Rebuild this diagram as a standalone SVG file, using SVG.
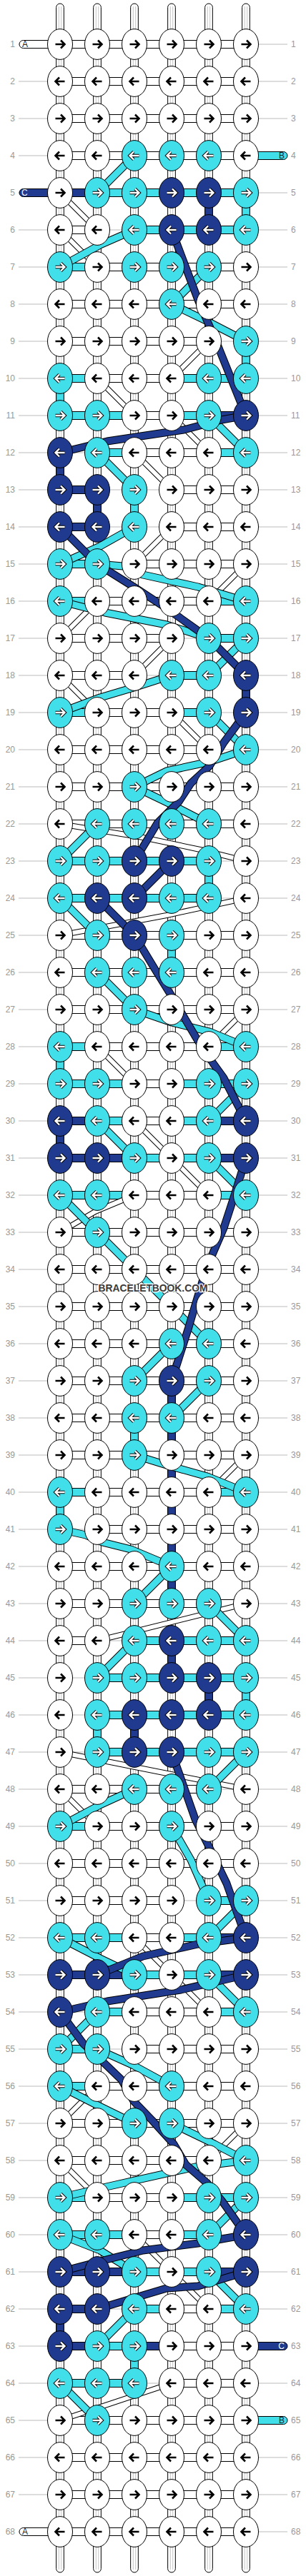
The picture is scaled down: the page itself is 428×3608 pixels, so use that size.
<svg xmlns="http://www.w3.org/2000/svg" width="428" height="3608" viewBox="0 0 428 3608">
<style>
.gl{stroke:#bbb;stroke-width:1;fill:none}
.lb{font-family:"Liberation Sans",Arial,sans-serif;font-size:12px;fill:#999}
.le{text-anchor:end}
.wp{fill:#fff;stroke:#000;stroke-width:1}
.wi{stroke:#c4c4c4;stroke-width:1;fill:none}
.st{font-family:"Liberation Sans",Arial,sans-serif;font-size:12px}
.bo{fill:none;stroke:#000;stroke-linejoin:round;stroke-linecap:butt}
.bw{fill:none;stroke:#fff;stroke-linejoin:round}
.bc{fill:none;stroke:#41dfea;stroke-linejoin:round}
.bn{fill:none;stroke:#1f3a8e;stroke-linejoin:round}
</style>
<defs>
<path id="a" d="M-6.5,0H6M1,-5.5L6.5,0L1,5.5" fill="none"/>
<g id="WR"><ellipse rx="17.5" ry="21.4" fill="#fff" stroke="#000"/><use href="#a" stroke="#000" stroke-width="2.6"/></g>
<g id="WL"><ellipse rx="17.5" ry="21.4" fill="#fff" stroke="#000"/><use href="#a" stroke="#000" stroke-width="2.6" transform="scale(-1,1)"/></g>
<g id="CR"><ellipse rx="17.5" ry="21.4" fill="#41dfea" stroke="#000"/><use href="#a" stroke="#000" stroke-width="4.4"/><use href="#a" stroke="#fff" stroke-width="2.4"/></g>
<g id="CL"><ellipse rx="17.5" ry="21.4" fill="#41dfea" stroke="#000"/><use href="#a" stroke="#000" stroke-width="4.4" transform="scale(-1,1)"/><use href="#a" stroke="#fff" stroke-width="2.4" transform="scale(-1,1)"/></g>
<g id="NR"><ellipse rx="17.5" ry="21.4" fill="#1f3a8e" stroke="#000"/><use href="#a" stroke="#000" stroke-width="4.4"/><use href="#a" stroke="#fff" stroke-width="2.4"/></g>
<g id="NL"><ellipse rx="17.5" ry="21.4" fill="#1f3a8e" stroke="#000"/><use href="#a" stroke="#000" stroke-width="4.4" transform="scale(-1,1)"/><use href="#a" stroke="#fff" stroke-width="2.4" transform="scale(-1,1)"/></g>
<rect id="R" x="84" y="-5.5" width="260" height="11" fill="#fff" stroke="#000"/>
<rect id="hc" x="12" y="-5.5" width="28" height="11" fill="#41dfea" stroke="#000"/>
<rect id="hn" x="12" y="-5.5" width="28" height="11" fill="#1f3a8e" stroke="#000"/>
<g id="hx"><rect x="14" y="-6.6" width="24" height="13.2" fill="#fff"/><path d="M14,0H38" stroke="#bbb"/></g>
<rect id="vc" x="-5.35" y="15" width="10.7" height="22" fill="#41dfea" stroke="#000"/>
<rect id="vn" x="-5.35" y="15" width="10.7" height="22" fill="#1f3a8e" stroke="#000"/>
<path id="dW" d="M84,270L136,322M84,322L136,374M292,478L240,530M136,530L188,582M240,582L292,634M188,634L240,686M240,738L188,790M344,790L292,842M136,842L84,894M240,894L188,946M84,946L136,998M240,998L292,1050M84,1154L200,1173L280,1190L344,1206M344,1258L233,1282L84,1310M344,1414L292,1466M136,1466L188,1518M188,1570L240,1622M240,1622L292,1674M188,1674L133,1697L84,1726M344,2038L292,2090M344,2246L136,2298M84,2454L344,2506M84,2506L136,2558M188,2714L240,2766M240,2766L292,2818M136,2922L84,2974M344,2974L292,3026M84,3026L136,3078M188,3130L240,3182M240,3182L292,3234M240,3338L84,3390"/>
<path id="dC" d="M188,218L136,270M188,322L140,343L84,374M292,374L240,426M240,426L290,450L344,478M292,582L344,634M136,634L188,686M188,738L140,765L84,790M136,790L172,793L200,805L277,822L344,842M84,842L147,858L233,875L292,894M344,894L292,946M240,946L187,963L140,977L84,998M292,998L344,1050M344,1050L293,1067L233,1080L188,1102M188,1102L240,1127L292,1154M136,1154L84,1206M84,1258L136,1310M136,1362L188,1414M188,1414L240,1432L293,1445L344,1466M344,1518L292,1570M136,1570L188,1622M292,1622L344,1674M84,1674L136,1726M136,1726L188,1778M188,1778L240,1830M240,1830L292,1882M240,1882L188,1934M292,1934L240,1986M188,2038L233,2052L290,2068L344,2090M84,2142L120,2150L143,2160L183,2170L240,2194M240,2194L188,2246M292,2246L344,2298M188,2298L136,2350M344,2454L292,2506M188,2506L140,2528L84,2558M240,2558L267,2605L292,2662M344,2662L292,2714M84,2714L140,2743L188,2766M292,2766L344,2818M136,2818L84,2870M136,2870L187,2893L240,2922M84,2922L133,2947L188,2974M240,2974L300,3003L344,3026M344,3026L273,3035L153,3062L84,3078M344,3078L292,3130M84,3130L140,3152L188,3182M292,3182L344,3234M188,3234L136,3286M84,3338L136,3390"/>
<path id="dN" d="M240,322L277,420L303,480L344,582M344,582L310,588L257,602L150,618L84,634M84,738L136,790M136,790L187,822L233,852L292,894L344,946M344,998L313,1040L293,1073L267,1097L250,1123L220,1153L188,1206M240,1206L188,1258M136,1258L188,1310M188,1310L217,1358L240,1395L277,1458L300,1492L313,1510L344,1570M344,1622L327,1677L313,1720L297,1757L283,1795L273,1828L263,1862L240,1934M240,2454L273,2548L290,2582L317,2638L344,2714M344,2714L277,2723L200,2740L136,2766M344,2766L253,2787L150,2803L84,2818M84,2818L117,2863L143,2887L170,2913L187,2943L213,2970L243,3003L260,3032L290,3058L310,3082L344,3130M344,3130L277,3142L200,3152L160,3162L84,3182M344,3182L277,3202L233,3205L136,3234"/>
</defs>
<rect width="428" height="3608" fill="#fff"/>
<g id="guides">
<path class="gl" d="M26,62H402M26,114H402M26,166H402M26,218H402M26,270H402M26,322H402M26,374H402M26,426H402M26,478H402M26,530H402M26,582H402M26,634H402M26,686H402M26,738H402M26,790H402M26,842H402M26,894H402M26,946H402M26,998H402M26,1050H402M26,1102H402M26,1154H402M26,1206H402M26,1258H402M26,1310H402M26,1362H402M26,1414H402M26,1466H402M26,1518H402M26,1570H402M26,1622H402M26,1674H402M26,1726H402M26,1778H402M26,1830H402M26,1882H402M26,1934H402M26,1986H402M26,2038H402M26,2090H402M26,2142H402M26,2194H402M26,2246H402M26,2298H402M26,2350H402M26,2402H402M26,2454H402M26,2506H402M26,2558H402M26,2610H402M26,2662H402M26,2714H402M26,2766H402M26,2818H402M26,2870H402M26,2922H402M26,2974H402M26,3026H402M26,3078H402M26,3130H402M26,3182H402M26,3234H402M26,3286H402M26,3338H402M26,3390H402M26,3442H402M26,3494H402M26,3546H402"/>
</g>
<g id="labels">
<text class="lb le" x="21" y="66">1</text><text class="lb" x="407" y="66">1</text>
<text class="lb le" x="21" y="118">2</text><text class="lb" x="407" y="118">2</text>
<text class="lb le" x="21" y="170">3</text><text class="lb" x="407" y="170">3</text>
<text class="lb le" x="21" y="222">4</text><text class="lb" x="407" y="222">4</text>
<text class="lb le" x="21" y="274">5</text><text class="lb" x="407" y="274">5</text>
<text class="lb le" x="21" y="326">6</text><text class="lb" x="407" y="326">6</text>
<text class="lb le" x="21" y="378">7</text><text class="lb" x="407" y="378">7</text>
<text class="lb le" x="21" y="430">8</text><text class="lb" x="407" y="430">8</text>
<text class="lb le" x="21" y="482">9</text><text class="lb" x="407" y="482">9</text>
<text class="lb le" x="21" y="534">10</text><text class="lb" x="407" y="534">10</text>
<text class="lb le" x="21" y="586">11</text><text class="lb" x="407" y="586">11</text>
<text class="lb le" x="21" y="638">12</text><text class="lb" x="407" y="638">12</text>
<text class="lb le" x="21" y="690">13</text><text class="lb" x="407" y="690">13</text>
<text class="lb le" x="21" y="742">14</text><text class="lb" x="407" y="742">14</text>
<text class="lb le" x="21" y="794">15</text><text class="lb" x="407" y="794">15</text>
<text class="lb le" x="21" y="846">16</text><text class="lb" x="407" y="846">16</text>
<text class="lb le" x="21" y="898">17</text><text class="lb" x="407" y="898">17</text>
<text class="lb le" x="21" y="950">18</text><text class="lb" x="407" y="950">18</text>
<text class="lb le" x="21" y="1002">19</text><text class="lb" x="407" y="1002">19</text>
<text class="lb le" x="21" y="1054">20</text><text class="lb" x="407" y="1054">20</text>
<text class="lb le" x="21" y="1106">21</text><text class="lb" x="407" y="1106">21</text>
<text class="lb le" x="21" y="1158">22</text><text class="lb" x="407" y="1158">22</text>
<text class="lb le" x="21" y="1210">23</text><text class="lb" x="407" y="1210">23</text>
<text class="lb le" x="21" y="1262">24</text><text class="lb" x="407" y="1262">24</text>
<text class="lb le" x="21" y="1314">25</text><text class="lb" x="407" y="1314">25</text>
<text class="lb le" x="21" y="1366">26</text><text class="lb" x="407" y="1366">26</text>
<text class="lb le" x="21" y="1418">27</text><text class="lb" x="407" y="1418">27</text>
<text class="lb le" x="21" y="1470">28</text><text class="lb" x="407" y="1470">28</text>
<text class="lb le" x="21" y="1522">29</text><text class="lb" x="407" y="1522">29</text>
<text class="lb le" x="21" y="1574">30</text><text class="lb" x="407" y="1574">30</text>
<text class="lb le" x="21" y="1626">31</text><text class="lb" x="407" y="1626">31</text>
<text class="lb le" x="21" y="1678">32</text><text class="lb" x="407" y="1678">32</text>
<text class="lb le" x="21" y="1730">33</text><text class="lb" x="407" y="1730">33</text>
<text class="lb le" x="21" y="1782">34</text><text class="lb" x="407" y="1782">34</text>
<text class="lb le" x="21" y="1834">35</text><text class="lb" x="407" y="1834">35</text>
<text class="lb le" x="21" y="1886">36</text><text class="lb" x="407" y="1886">36</text>
<text class="lb le" x="21" y="1938">37</text><text class="lb" x="407" y="1938">37</text>
<text class="lb le" x="21" y="1990">38</text><text class="lb" x="407" y="1990">38</text>
<text class="lb le" x="21" y="2042">39</text><text class="lb" x="407" y="2042">39</text>
<text class="lb le" x="21" y="2094">40</text><text class="lb" x="407" y="2094">40</text>
<text class="lb le" x="21" y="2146">41</text><text class="lb" x="407" y="2146">41</text>
<text class="lb le" x="21" y="2198">42</text><text class="lb" x="407" y="2198">42</text>
<text class="lb le" x="21" y="2250">43</text><text class="lb" x="407" y="2250">43</text>
<text class="lb le" x="21" y="2302">44</text><text class="lb" x="407" y="2302">44</text>
<text class="lb le" x="21" y="2354">45</text><text class="lb" x="407" y="2354">45</text>
<text class="lb le" x="21" y="2406">46</text><text class="lb" x="407" y="2406">46</text>
<text class="lb le" x="21" y="2458">47</text><text class="lb" x="407" y="2458">47</text>
<text class="lb le" x="21" y="2510">48</text><text class="lb" x="407" y="2510">48</text>
<text class="lb le" x="21" y="2562">49</text><text class="lb" x="407" y="2562">49</text>
<text class="lb le" x="21" y="2614">50</text><text class="lb" x="407" y="2614">50</text>
<text class="lb le" x="21" y="2666">51</text><text class="lb" x="407" y="2666">51</text>
<text class="lb le" x="21" y="2718">52</text><text class="lb" x="407" y="2718">52</text>
<text class="lb le" x="21" y="2770">53</text><text class="lb" x="407" y="2770">53</text>
<text class="lb le" x="21" y="2822">54</text><text class="lb" x="407" y="2822">54</text>
<text class="lb le" x="21" y="2874">55</text><text class="lb" x="407" y="2874">55</text>
<text class="lb le" x="21" y="2926">56</text><text class="lb" x="407" y="2926">56</text>
<text class="lb le" x="21" y="2978">57</text><text class="lb" x="407" y="2978">57</text>
<text class="lb le" x="21" y="3030">58</text><text class="lb" x="407" y="3030">58</text>
<text class="lb le" x="21" y="3082">59</text><text class="lb" x="407" y="3082">59</text>
<text class="lb le" x="21" y="3134">60</text><text class="lb" x="407" y="3134">60</text>
<text class="lb le" x="21" y="3186">61</text><text class="lb" x="407" y="3186">61</text>
<text class="lb le" x="21" y="3238">62</text><text class="lb" x="407" y="3238">62</text>
<text class="lb le" x="21" y="3290">63</text><text class="lb" x="407" y="3290">63</text>
<text class="lb le" x="21" y="3342">64</text><text class="lb" x="407" y="3342">64</text>
<text class="lb le" x="21" y="3394">65</text><text class="lb" x="407" y="3394">65</text>
<text class="lb le" x="21" y="3446">66</text><text class="lb" x="407" y="3446">66</text>
<text class="lb le" x="21" y="3498">67</text><text class="lb" x="407" y="3498">67</text>
<text class="lb le" x="21" y="3550">68</text><text class="lb" x="407" y="3550">68</text>
</g>
<g id="connectors">
<g id="warps">
<rect class="wp" x="78.65" y="5" width="10.7" height="3598" rx="5.35"/>
<rect class="wp" x="130.65" y="5" width="10.7" height="3598" rx="5.35"/>
<rect class="wp" x="182.65" y="5" width="10.7" height="3598" rx="5.35"/>
<rect class="wp" x="234.65" y="5" width="10.7" height="3598" rx="5.35"/>
<rect class="wp" x="286.65" y="5" width="10.7" height="3598" rx="5.35"/>
<rect class="wp" x="338.65" y="5" width="10.7" height="3598" rx="5.35"/>
<path class="wi" d="M82.3,9V3599M85.7,9V3599M134.3,9V3599M137.7,9V3599M186.3,9V3599M189.7,9V3599M238.3,9V3599M241.7,9V3599M290.3,9V3599M293.7,9V3599M342.3,9V3599M345.7,9V3599"/>
</g>
<g id="rows">
<use href="#R" y="62"/><use href="#R" y="114"/><use href="#R" y="166"/><use href="#R" y="218"/><use href="#R" y="270"/><use href="#R" y="322"/><use href="#R" y="374"/><use href="#R" y="426"/><use href="#R" y="478"/><use href="#R" y="530"/><use href="#R" y="582"/><use href="#R" y="634"/><use href="#R" y="686"/><use href="#R" y="738"/><use href="#R" y="790"/><use href="#R" y="842"/><use href="#R" y="894"/><use href="#R" y="946"/><use href="#R" y="998"/><use href="#R" y="1050"/><use href="#R" y="1102"/><use href="#R" y="1154"/><use href="#R" y="1206"/><use href="#R" y="1258"/><use href="#R" y="1310"/><use href="#R" y="1362"/><use href="#R" y="1414"/><use href="#R" y="1466"/><use href="#R" y="1518"/><use href="#R" y="1570"/><use href="#R" y="1622"/><use href="#R" y="1674"/><use href="#R" y="1726"/><use href="#R" y="1778"/><use href="#R" y="1830"/><use href="#R" y="1882"/><use href="#R" y="1934"/><use href="#R" y="1986"/><use href="#R" y="2038"/><use href="#R" y="2090"/><use href="#R" y="2142"/><use href="#R" y="2194"/><use href="#R" y="2246"/><use href="#R" y="2298"/><use href="#R" y="2350"/><use href="#R" y="2402"/><use href="#R" y="2454"/><use href="#R" y="2506"/><use href="#R" y="2558"/><use href="#R" y="2610"/><use href="#R" y="2662"/><use href="#R" y="2714"/><use href="#R" y="2766"/><use href="#R" y="2818"/><use href="#R" y="2870"/><use href="#R" y="2922"/><use href="#R" y="2974"/><use href="#R" y="3026"/><use href="#R" y="3078"/><use href="#R" y="3130"/><use href="#R" y="3182"/><use href="#R" y="3234"/><use href="#R" y="3286"/><use href="#R" y="3338"/><use href="#R" y="3390"/><use href="#R" y="3442"/><use href="#R" y="3494"/><use href="#R" y="3546"/>
</g>
<g id="ends">
<rect x="27" y="56.5" width="64" height="11" rx="5.5" fill="#fff" stroke="#000"/><text class="st" x="31" y="66" fill="#222">A</text>
<rect x="27" y="3540.5" width="64" height="11" rx="5.5" fill="#fff" stroke="#000"/><text class="st" x="31" y="3550" fill="#222">A</text>
<rect x="27" y="264.5" width="64" height="11" rx="5.5" fill="#1f3a8e" stroke="#000"/><text class="st" x="30" y="274" fill="#fff">C</text>
<rect x="338" y="212.5" width="64" height="11" rx="5.5" fill="#41dfea" stroke="#000"/><text class="st" x="398" y="222" fill="#222" text-anchor="end">B</text>
<rect x="338" y="3384.5" width="64" height="11" rx="5.5" fill="#41dfea" stroke="#000"/><text class="st" x="398" y="3394" fill="#222" text-anchor="end">B</text>
<rect x="338" y="3280.5" width="64" height="11" rx="5.5" fill="#1f3a8e" stroke="#000"/><text class="st" x="398" y="3290" fill="#fff" text-anchor="end">C</text>
</g>
<g id="gaps">
<use href="#hx" x="136" y="322"/><use href="#hx" x="292" y="478"/><use href="#hx" x="84" y="634"/><use href="#hx" x="136" y="686"/><use href="#hx" x="188" y="686"/><use href="#hx" x="136" y="738"/><use href="#hx" x="188" y="738"/><use href="#hx" x="136" y="790"/><use href="#hx" x="240" y="894"/><use href="#hx" x="188" y="946"/><use href="#hx" x="292" y="946"/><use href="#hx" x="292" y="998"/><use href="#hx" x="292" y="1050"/><use href="#hx" x="292" y="1206"/><use href="#hx" x="292" y="1258"/><use href="#hx" x="84" y="2142"/><use href="#hx" x="136" y="2298"/><use href="#hx" x="84" y="2350"/><use href="#hx" x="84" y="2402"/><use href="#hx" x="84" y="2454"/><use href="#hx" x="292" y="2506"/><use href="#hx" x="240" y="2662"/><use href="#hx" x="84" y="2818"/><use href="#hx" x="136" y="2870"/><use href="#hx" x="292" y="3026"/><use href="#hx" x="292" y="3130"/><use href="#hx" x="136" y="3234"/><use href="#hx" x="188" y="3338"/>
</g>
<g id="hcolor">
<use href="#hn" x="84" y="270"/><use href="#hc" x="136" y="270"/><use href="#hc" x="188" y="270"/><use href="#hc" x="240" y="270"/><use href="#hc" x="292" y="270"/>
<use href="#hc" x="188" y="322"/><use href="#hc" x="240" y="322"/><use href="#hc" x="292" y="322"/>
<use href="#hc" x="84" y="374"/>
<use href="#hc" x="84" y="530"/><use href="#hc" x="240" y="530"/><use href="#hc" x="292" y="530"/>
<use href="#hc" x="84" y="582"/><use href="#hc" x="136" y="582"/><use href="#hc" x="240" y="582"/><use href="#hn" x="292" y="582"/>
<use href="#hc" x="136" y="634"/><use href="#hc" x="292" y="634"/>
<use href="#hn" x="84" y="686"/><use href="#hn" x="84" y="738"/>
<use href="#hc" x="84" y="790"/>
<use href="#hc" x="84" y="842"/><use href="#hc" x="292" y="842"/>
<use href="#hc" x="292" y="894"/><use href="#hc" x="240" y="946"/>
<use href="#hc" x="84" y="998"/><use href="#hc" x="240" y="998"/>
<use href="#hc" x="84" y="1206"/><use href="#hc" x="136" y="1206"/><use href="#hc" x="188" y="1206"/><use href="#hc" x="240" y="1206"/>
<use href="#hc" x="84" y="1258"/><use href="#hc" x="136" y="1258"/><use href="#hc" x="188" y="1258"/><use href="#hc" x="240" y="1258"/>
<use href="#hc" x="84" y="1466"/><use href="#hc" x="292" y="1466"/>
<use href="#hc" x="84" y="1518"/><use href="#hc" x="136" y="1518"/><use href="#hc" x="240" y="1518"/><use href="#hc" x="292" y="1518"/>
<use href="#hn" x="84" y="1570"/><use href="#hc" x="136" y="1570"/><use href="#hc" x="240" y="1570"/><use href="#hn" x="292" y="1570"/>
<use href="#hn" x="84" y="1622"/><use href="#hn" x="136" y="1622"/><use href="#hc" x="188" y="1622"/><use href="#hc" x="240" y="1622"/><use href="#hn" x="292" y="1622"/>
<use href="#hc" x="84" y="1674"/><use href="#hc" x="136" y="1674"/><use href="#hc" x="292" y="1674"/>
<use href="#hc" x="84" y="2090"/><use href="#hc" x="292" y="2090"/>
<use href="#hc" x="188" y="2298"/><use href="#hc" x="240" y="2298"/><use href="#hc" x="292" y="2298"/>
<use href="#hc" x="136" y="2350"/><use href="#hc" x="188" y="2350"/><use href="#hc" x="240" y="2350"/><use href="#hc" x="292" y="2350"/>
<use href="#hc" x="136" y="2402"/><use href="#hc" x="188" y="2402"/><use href="#hc" x="240" y="2402"/><use href="#hc" x="292" y="2402"/>
<use href="#hc" x="136" y="2454"/><use href="#hc" x="188" y="2454"/><use href="#hc" x="240" y="2454"/><use href="#hc" x="292" y="2454"/>
<use href="#hc" x="84" y="2558"/><use href="#hc" x="292" y="2662"/>
<use href="#hc" x="84" y="2714"/><use href="#hc" x="136" y="2714"/><use href="#hc" x="240" y="2714"/><use href="#hn" x="292" y="2714"/>
<use href="#hn" x="84" y="2766"/><use href="#hn" x="136" y="2766"/><use href="#hc" x="188" y="2766"/><use href="#hc" x="240" y="2766"/><use href="#hn" x="292" y="2766"/>
<use href="#hc" x="136" y="2818"/><use href="#hc" x="292" y="2818"/>
<use href="#hc" x="84" y="2870"/><use href="#hc" x="84" y="2922"/>
<use href="#hc" x="84" y="3078"/><use href="#hc" x="240" y="3078"/><use href="#hc" x="292" y="3078"/>
<use href="#hc" x="84" y="3130"/><use href="#hc" x="136" y="3130"/><use href="#hc" x="240" y="3130"/>
<use href="#hn" x="84" y="3182"/><use href="#hn" x="136" y="3182"/><use href="#hc" x="188" y="3182"/><use href="#hc" x="240" y="3182"/><use href="#hn" x="292" y="3182"/>
<use href="#hn" x="84" y="3234"/><use href="#hc" x="188" y="3234"/><use href="#hc" x="292" y="3234"/>
<use href="#hn" x="84" y="3286"/><use href="#hc" x="136" y="3286"/><use href="#hn" x="188" y="3286"/>
<use href="#hc" x="84" y="3338"/><use href="#hc" x="136" y="3338"/>
</g>
<g id="vcolor">
<use href="#vn" x="292" y="270"/><use href="#vc" x="344" y="270"/><use href="#vc" x="344" y="478"/><use href="#vc" x="84" y="530"/><use href="#vn" x="84" y="634"/><use href="#vn" x="136" y="686"/><use href="#vc" x="188" y="686"/><use href="#vn" x="344" y="946"/><use href="#vc" x="292" y="1206"/><use href="#vc" x="240" y="1310"/><use href="#vc" x="84" y="1466"/><use href="#vn" x="84" y="1570"/><use href="#vn" x="240" y="1934"/><use href="#vc" x="188" y="1986"/><use href="#vn" x="240" y="1986"/><use href="#vn" x="240" y="2038"/><use href="#vc" x="84" y="2090"/><use href="#vn" x="240" y="2090"/><use href="#vn" x="240" y="2142"/><use href="#vn" x="240" y="2194"/><use href="#vn" x="240" y="2298"/><use href="#vn" x="292" y="2350"/><use href="#vc" x="344" y="2350"/><use href="#vc" x="136" y="2402"/><use href="#vn" x="188" y="2402"/><use href="#vn" x="84" y="3234"/><use href="#vc" x="188" y="3286"/>
</g>
<g id="strands">
<use href="#dW" class="bo" stroke-width="8"/><use href="#dW" class="bw" stroke-width="6"/>
<use href="#dC" class="bo" stroke-width="11"/><use href="#dC" class="bc" stroke-width="9"/>
<use href="#dN" class="bo" stroke-width="11"/><use href="#dN" class="bn" stroke-width="9"/>
</g>
</g>
<g id="nodes">
<g id="n1_1"><use href="#WR" x="84" y="62"/></g><g id="n1_2"><use href="#WR" x="136" y="62"/></g><g id="n1_3"><use href="#WR" x="188" y="62"/></g><g id="n1_4"><use href="#WR" x="240" y="62"/></g><g id="n1_5"><use href="#WR" x="292" y="62"/></g><g id="n1_6"><use href="#WR" x="344" y="62"/></g>
<g id="n2_1"><use href="#WL" x="84" y="114"/></g><g id="n2_2"><use href="#WL" x="136" y="114"/></g><g id="n2_3"><use href="#WL" x="188" y="114"/></g><g id="n2_4"><use href="#WL" x="240" y="114"/></g><g id="n2_5"><use href="#WL" x="292" y="114"/></g><g id="n2_6"><use href="#WL" x="344" y="114"/></g>
<g id="n3_1"><use href="#WR" x="84" y="166"/></g><g id="n3_2"><use href="#WR" x="136" y="166"/></g><g id="n3_3"><use href="#WR" x="188" y="166"/></g><g id="n3_4"><use href="#WR" x="240" y="166"/></g><g id="n3_5"><use href="#WR" x="292" y="166"/></g><g id="n3_6"><use href="#WR" x="344" y="166"/></g>
<g id="n4_1"><use href="#WL" x="84" y="218"/></g><g id="n4_2"><use href="#WL" x="136" y="218"/></g><g id="n4_3"><use href="#CL" x="188" y="218"/></g><g id="n4_4"><use href="#CL" x="240" y="218"/></g><g id="n4_5"><use href="#CL" x="292" y="218"/></g><g id="n4_6"><use href="#WL" x="344" y="218"/></g>
<g id="n5_1"><use href="#WR" x="84" y="270"/></g><g id="n5_2"><use href="#CR" x="136" y="270"/></g><g id="n5_3"><use href="#CR" x="188" y="270"/></g><g id="n5_4"><use href="#NR" x="240" y="270"/></g><g id="n5_5"><use href="#NR" x="292" y="270"/></g><g id="n5_6"><use href="#CR" x="344" y="270"/></g>
<g id="n6_1"><use href="#WL" x="84" y="322"/></g><g id="n6_2"><use href="#WL" x="136" y="322"/></g><g id="n6_3"><use href="#CL" x="188" y="322"/></g><g id="n6_4"><use href="#NL" x="240" y="322"/></g><g id="n6_5"><use href="#NL" x="292" y="322"/></g><g id="n6_6"><use href="#CL" x="344" y="322"/></g>
<g id="n7_1"><use href="#CR" x="84" y="374"/></g><g id="n7_2"><use href="#WR" x="136" y="374"/></g><g id="n7_3"><use href="#CR" x="188" y="374"/></g><g id="n7_4"><use href="#CR" x="240" y="374"/></g><g id="n7_5"><use href="#CR" x="292" y="374"/></g><g id="n7_6"><use href="#WR" x="344" y="374"/></g>
<g id="n8_1"><use href="#WL" x="84" y="426"/></g><g id="n8_2"><use href="#WL" x="136" y="426"/></g><g id="n8_3"><use href="#WL" x="188" y="426"/></g><g id="n8_4"><use href="#CL" x="240" y="426"/></g><g id="n8_5"><use href="#WL" x="292" y="426"/></g><g id="n8_6"><use href="#WL" x="344" y="426"/></g>
<g id="n9_1"><use href="#WR" x="84" y="478"/></g><g id="n9_2"><use href="#WR" x="136" y="478"/></g><g id="n9_3"><use href="#WR" x="188" y="478"/></g><g id="n9_4"><use href="#WR" x="240" y="478"/></g><g id="n9_5"><use href="#WR" x="292" y="478"/></g><g id="n9_6"><use href="#CR" x="344" y="478"/></g>
<g id="n10_1"><use href="#CL" x="84" y="530"/></g><g id="n10_2"><use href="#WL" x="136" y="530"/></g><g id="n10_3"><use href="#WL" x="188" y="530"/></g><g id="n10_4"><use href="#WL" x="240" y="530"/></g><g id="n10_5"><use href="#CL" x="292" y="530"/></g><g id="n10_6"><use href="#CL" x="344" y="530"/></g>
<g id="n11_1"><use href="#CR" x="84" y="582"/></g><g id="n11_2"><use href="#CR" x="136" y="582"/></g><g id="n11_3"><use href="#WR" x="188" y="582"/></g><g id="n11_4"><use href="#WR" x="240" y="582"/></g><g id="n11_5"><use href="#CR" x="292" y="582"/></g><g id="n11_6"><use href="#NR" x="344" y="582"/></g>
<g id="n12_1"><use href="#NL" x="84" y="634"/></g><g id="n12_2"><use href="#CL" x="136" y="634"/></g><g id="n12_3"><use href="#WL" x="188" y="634"/></g><g id="n12_4"><use href="#WL" x="240" y="634"/></g><g id="n12_5"><use href="#WL" x="292" y="634"/></g><g id="n12_6"><use href="#CL" x="344" y="634"/></g>
<g id="n13_1"><use href="#NR" x="84" y="686"/></g><g id="n13_2"><use href="#NR" x="136" y="686"/></g><g id="n13_3"><use href="#CR" x="188" y="686"/></g><g id="n13_4"><use href="#WR" x="240" y="686"/></g><g id="n13_5"><use href="#WR" x="292" y="686"/></g><g id="n13_6"><use href="#WR" x="344" y="686"/></g>
<g id="n14_1"><use href="#NL" x="84" y="738"/></g><g id="n14_2"><use href="#NL" x="136" y="738"/></g><g id="n14_3"><use href="#CL" x="188" y="738"/></g><g id="n14_4"><use href="#WL" x="240" y="738"/></g><g id="n14_5"><use href="#WL" x="292" y="738"/></g><g id="n14_6"><use href="#WL" x="344" y="738"/></g>
<g id="n15_1"><use href="#CR" x="84" y="790"/></g><g id="n15_2"><use href="#CR" x="136" y="790"/></g><g id="n15_3"><use href="#WR" x="188" y="790"/></g><g id="n15_4"><use href="#WR" x="240" y="790"/></g><g id="n15_5"><use href="#WR" x="292" y="790"/></g><g id="n15_6"><use href="#WR" x="344" y="790"/></g>
<g id="n16_1"><use href="#CL" x="84" y="842"/></g><g id="n16_2"><use href="#WL" x="136" y="842"/></g><g id="n16_3"><use href="#WL" x="188" y="842"/></g><g id="n16_4"><use href="#WL" x="240" y="842"/></g><g id="n16_5"><use href="#WL" x="292" y="842"/></g><g id="n16_6"><use href="#CL" x="344" y="842"/></g>
<g id="n17_1"><use href="#WR" x="84" y="894"/></g><g id="n17_2"><use href="#WR" x="136" y="894"/></g><g id="n17_3"><use href="#WR" x="188" y="894"/></g><g id="n17_4"><use href="#WR" x="240" y="894"/></g><g id="n17_5"><use href="#CR" x="292" y="894"/></g><g id="n17_6"><use href="#CR" x="344" y="894"/></g>
<g id="n18_1"><use href="#WL" x="84" y="946"/></g><g id="n18_2"><use href="#WL" x="136" y="946"/></g><g id="n18_3"><use href="#WL" x="188" y="946"/></g><g id="n18_4"><use href="#CL" x="240" y="946"/></g><g id="n18_5"><use href="#CL" x="292" y="946"/></g><g id="n18_6"><use href="#NL" x="344" y="946"/></g>
<g id="n19_1"><use href="#CR" x="84" y="998"/></g><g id="n19_2"><use href="#WR" x="136" y="998"/></g><g id="n19_3"><use href="#WR" x="188" y="998"/></g><g id="n19_4"><use href="#WR" x="240" y="998"/></g><g id="n19_5"><use href="#CR" x="292" y="998"/></g><g id="n19_6"><use href="#NR" x="344" y="998"/></g>
<g id="n20_1"><use href="#WL" x="84" y="1050"/></g><g id="n20_2"><use href="#WL" x="136" y="1050"/></g><g id="n20_3"><use href="#WL" x="188" y="1050"/></g><g id="n20_4"><use href="#WL" x="240" y="1050"/></g><g id="n20_5"><use href="#WL" x="292" y="1050"/></g><g id="n20_6"><use href="#CL" x="344" y="1050"/></g>
<g id="n21_1"><use href="#WR" x="84" y="1102"/></g><g id="n21_2"><use href="#WR" x="136" y="1102"/></g><g id="n21_3"><use href="#CR" x="188" y="1102"/></g><g id="n21_4"><use href="#WR" x="240" y="1102"/></g><g id="n21_5"><use href="#WR" x="292" y="1102"/></g><g id="n21_6"><use href="#WR" x="344" y="1102"/></g>
<g id="n22_1"><use href="#WL" x="84" y="1154"/></g><g id="n22_2"><use href="#CL" x="136" y="1154"/></g><g id="n22_3"><use href="#CL" x="188" y="1154"/></g><g id="n22_4"><use href="#CL" x="240" y="1154"/></g><g id="n22_5"><use href="#CL" x="292" y="1154"/></g><g id="n22_6"><use href="#WL" x="344" y="1154"/></g>
<g id="n23_1"><use href="#CR" x="84" y="1206"/></g><g id="n23_2"><use href="#CR" x="136" y="1206"/></g><g id="n23_3"><use href="#NR" x="188" y="1206"/></g><g id="n23_4"><use href="#NR" x="240" y="1206"/></g><g id="n23_5"><use href="#CR" x="292" y="1206"/></g><g id="n23_6"><use href="#WR" x="344" y="1206"/></g>
<g id="n24_1"><use href="#CL" x="84" y="1258"/></g><g id="n24_2"><use href="#NL" x="136" y="1258"/></g><g id="n24_3"><use href="#NL" x="188" y="1258"/></g><g id="n24_4"><use href="#CL" x="240" y="1258"/></g><g id="n24_5"><use href="#CL" x="292" y="1258"/></g><g id="n24_6"><use href="#WL" x="344" y="1258"/></g>
<g id="n25_1"><use href="#WR" x="84" y="1310"/></g><g id="n25_2"><use href="#CR" x="136" y="1310"/></g><g id="n25_3"><use href="#NR" x="188" y="1310"/></g><g id="n25_4"><use href="#CR" x="240" y="1310"/></g><g id="n25_5"><use href="#WR" x="292" y="1310"/></g><g id="n25_6"><use href="#WR" x="344" y="1310"/></g>
<g id="n26_1"><use href="#WL" x="84" y="1362"/></g><g id="n26_2"><use href="#CL" x="136" y="1362"/></g><g id="n26_3"><use href="#CL" x="188" y="1362"/></g><g id="n26_4"><use href="#CL" x="240" y="1362"/></g><g id="n26_5"><use href="#WL" x="292" y="1362"/></g><g id="n26_6"><use href="#WL" x="344" y="1362"/></g>
<g id="n27_1"><use href="#WR" x="84" y="1414"/></g><g id="n27_2"><use href="#WR" x="136" y="1414"/></g><g id="n27_3"><use href="#CR" x="188" y="1414"/></g><g id="n27_4"><use href="#WR" x="240" y="1414"/></g><g id="n27_5"><use href="#WR" x="292" y="1414"/></g><g id="n27_6"><use href="#WR" x="344" y="1414"/></g>
<g id="n28_1"><use href="#CL" x="84" y="1466"/></g><g id="n28_2"><use href="#WL" x="136" y="1466"/></g><g id="n28_3"><use href="#WL" x="188" y="1466"/></g><g id="n28_4"><use href="#WL" x="240" y="1466"/></g><g id="n28_5"><use href="#WL" x="292" y="1466"/></g><g id="n28_6"><use href="#CL" x="344" y="1466"/></g>
<g id="n29_1"><use href="#CR" x="84" y="1518"/></g><g id="n29_2"><use href="#CR" x="136" y="1518"/></g><g id="n29_3"><use href="#WR" x="188" y="1518"/></g><g id="n29_4"><use href="#WR" x="240" y="1518"/></g><g id="n29_5"><use href="#CR" x="292" y="1518"/></g><g id="n29_6"><use href="#CR" x="344" y="1518"/></g>
<g id="n30_1"><use href="#NL" x="84" y="1570"/></g><g id="n30_2"><use href="#CL" x="136" y="1570"/></g><g id="n30_3"><use href="#WL" x="188" y="1570"/></g><g id="n30_4"><use href="#WL" x="240" y="1570"/></g><g id="n30_5"><use href="#CL" x="292" y="1570"/></g><g id="n30_6"><use href="#NL" x="344" y="1570"/></g>
<g id="n31_1"><use href="#NR" x="84" y="1622"/></g><g id="n31_2"><use href="#NR" x="136" y="1622"/></g><g id="n31_3"><use href="#CR" x="188" y="1622"/></g><g id="n31_4"><use href="#WR" x="240" y="1622"/></g><g id="n31_5"><use href="#CR" x="292" y="1622"/></g><g id="n31_6"><use href="#NR" x="344" y="1622"/></g>
<g id="n32_1"><use href="#CL" x="84" y="1674"/></g><g id="n32_2"><use href="#CL" x="136" y="1674"/></g><g id="n32_3"><use href="#WL" x="188" y="1674"/></g><g id="n32_4"><use href="#WL" x="240" y="1674"/></g><g id="n32_5"><use href="#WL" x="292" y="1674"/></g><g id="n32_6"><use href="#CL" x="344" y="1674"/></g>
<g id="n33_1"><use href="#WR" x="84" y="1726"/></g><g id="n33_2"><use href="#CR" x="136" y="1726"/></g><g id="n33_3"><use href="#WR" x="188" y="1726"/></g><g id="n33_4"><use href="#WR" x="240" y="1726"/></g><g id="n33_5"><use href="#WR" x="292" y="1726"/></g><g id="n33_6"><use href="#WR" x="344" y="1726"/></g>
<g id="n34_1"><use href="#WL" x="84" y="1778"/></g><g id="n34_2"><use href="#WL" x="136" y="1778"/></g><g id="n34_3"><use href="#WL" x="188" y="1778"/></g><g id="n34_4"><use href="#WL" x="240" y="1778"/></g><g id="n34_5"><use href="#WL" x="292" y="1778"/></g><g id="n34_6"><use href="#WL" x="344" y="1778"/></g>
<g id="n35_1"><use href="#WR" x="84" y="1830"/></g><g id="n35_2"><use href="#WR" x="136" y="1830"/></g><g id="n35_3"><use href="#WR" x="188" y="1830"/></g><g id="n35_4"><use href="#WR" x="240" y="1830"/></g><g id="n35_5"><use href="#WR" x="292" y="1830"/></g><g id="n35_6"><use href="#WR" x="344" y="1830"/></g>
<g id="n36_1"><use href="#WL" x="84" y="1882"/></g><g id="n36_2"><use href="#WL" x="136" y="1882"/></g><g id="n36_3"><use href="#WL" x="188" y="1882"/></g><g id="n36_4"><use href="#CL" x="240" y="1882"/></g><g id="n36_5"><use href="#CL" x="292" y="1882"/></g><g id="n36_6"><use href="#WL" x="344" y="1882"/></g>
<g id="n37_1"><use href="#WR" x="84" y="1934"/></g><g id="n37_2"><use href="#WR" x="136" y="1934"/></g><g id="n37_3"><use href="#CR" x="188" y="1934"/></g><g id="n37_4"><use href="#NR" x="240" y="1934"/></g><g id="n37_5"><use href="#CR" x="292" y="1934"/></g><g id="n37_6"><use href="#WR" x="344" y="1934"/></g>
<g id="n38_1"><use href="#WL" x="84" y="1986"/></g><g id="n38_2"><use href="#WL" x="136" y="1986"/></g><g id="n38_3"><use href="#CL" x="188" y="1986"/></g><g id="n38_4"><use href="#CL" x="240" y="1986"/></g><g id="n38_5"><use href="#WL" x="292" y="1986"/></g><g id="n38_6"><use href="#WL" x="344" y="1986"/></g>
<g id="n39_1"><use href="#WR" x="84" y="2038"/></g><g id="n39_2"><use href="#WR" x="136" y="2038"/></g><g id="n39_3"><use href="#CR" x="188" y="2038"/></g><g id="n39_4"><use href="#WR" x="240" y="2038"/></g><g id="n39_5"><use href="#WR" x="292" y="2038"/></g><g id="n39_6"><use href="#WR" x="344" y="2038"/></g>
<g id="n40_1"><use href="#CL" x="84" y="2090"/></g><g id="n40_2"><use href="#WL" x="136" y="2090"/></g><g id="n40_3"><use href="#WL" x="188" y="2090"/></g><g id="n40_4"><use href="#WL" x="240" y="2090"/></g><g id="n40_5"><use href="#WL" x="292" y="2090"/></g><g id="n40_6"><use href="#CL" x="344" y="2090"/></g>
<g id="n41_1"><use href="#CR" x="84" y="2142"/></g><g id="n41_2"><use href="#WR" x="136" y="2142"/></g><g id="n41_3"><use href="#WR" x="188" y="2142"/></g><g id="n41_4"><use href="#WR" x="240" y="2142"/></g><g id="n41_5"><use href="#WR" x="292" y="2142"/></g><g id="n41_6"><use href="#WR" x="344" y="2142"/></g>
<g id="n42_1"><use href="#WL" x="84" y="2194"/></g><g id="n42_2"><use href="#WL" x="136" y="2194"/></g><g id="n42_3"><use href="#WL" x="188" y="2194"/></g><g id="n42_4"><use href="#CL" x="240" y="2194"/></g><g id="n42_5"><use href="#WL" x="292" y="2194"/></g><g id="n42_6"><use href="#WL" x="344" y="2194"/></g>
<g id="n43_1"><use href="#WR" x="84" y="2246"/></g><g id="n43_2"><use href="#WR" x="136" y="2246"/></g><g id="n43_3"><use href="#CR" x="188" y="2246"/></g><g id="n43_4"><use href="#CR" x="240" y="2246"/></g><g id="n43_5"><use href="#CR" x="292" y="2246"/></g><g id="n43_6"><use href="#WR" x="344" y="2246"/></g>
<g id="n44_1"><use href="#WL" x="84" y="2298"/></g><g id="n44_2"><use href="#WL" x="136" y="2298"/></g><g id="n44_3"><use href="#CL" x="188" y="2298"/></g><g id="n44_4"><use href="#NL" x="240" y="2298"/></g><g id="n44_5"><use href="#CL" x="292" y="2298"/></g><g id="n44_6"><use href="#CL" x="344" y="2298"/></g>
<g id="n45_1"><use href="#WR" x="84" y="2350"/></g><g id="n45_2"><use href="#CR" x="136" y="2350"/></g><g id="n45_3"><use href="#CR" x="188" y="2350"/></g><g id="n45_4"><use href="#NR" x="240" y="2350"/></g><g id="n45_5"><use href="#NR" x="292" y="2350"/></g><g id="n45_6"><use href="#CR" x="344" y="2350"/></g>
<g id="n46_1"><use href="#WL" x="84" y="2402"/></g><g id="n46_2"><use href="#CL" x="136" y="2402"/></g><g id="n46_3"><use href="#NL" x="188" y="2402"/></g><g id="n46_4"><use href="#NL" x="240" y="2402"/></g><g id="n46_5"><use href="#NL" x="292" y="2402"/></g><g id="n46_6"><use href="#CL" x="344" y="2402"/></g>
<g id="n47_1"><use href="#WR" x="84" y="2454"/></g><g id="n47_2"><use href="#CR" x="136" y="2454"/></g><g id="n47_3"><use href="#NR" x="188" y="2454"/></g><g id="n47_4"><use href="#NR" x="240" y="2454"/></g><g id="n47_5"><use href="#CR" x="292" y="2454"/></g><g id="n47_6"><use href="#CR" x="344" y="2454"/></g>
<g id="n48_1"><use href="#WL" x="84" y="2506"/></g><g id="n48_2"><use href="#WL" x="136" y="2506"/></g><g id="n48_3"><use href="#CL" x="188" y="2506"/></g><g id="n48_4"><use href="#CL" x="240" y="2506"/></g><g id="n48_5"><use href="#CL" x="292" y="2506"/></g><g id="n48_6"><use href="#WL" x="344" y="2506"/></g>
<g id="n49_1"><use href="#CR" x="84" y="2558"/></g><g id="n49_2"><use href="#WR" x="136" y="2558"/></g><g id="n49_3"><use href="#WR" x="188" y="2558"/></g><g id="n49_4"><use href="#CR" x="240" y="2558"/></g><g id="n49_5"><use href="#WR" x="292" y="2558"/></g><g id="n49_6"><use href="#WR" x="344" y="2558"/></g>
<g id="n50_1"><use href="#WL" x="84" y="2610"/></g><g id="n50_2"><use href="#WL" x="136" y="2610"/></g><g id="n50_3"><use href="#WL" x="188" y="2610"/></g><g id="n50_4"><use href="#WL" x="240" y="2610"/></g><g id="n50_5"><use href="#WL" x="292" y="2610"/></g><g id="n50_6"><use href="#WL" x="344" y="2610"/></g>
<g id="n51_1"><use href="#WR" x="84" y="2662"/></g><g id="n51_2"><use href="#WR" x="136" y="2662"/></g><g id="n51_3"><use href="#WR" x="188" y="2662"/></g><g id="n51_4"><use href="#WR" x="240" y="2662"/></g><g id="n51_5"><use href="#CR" x="292" y="2662"/></g><g id="n51_6"><use href="#CR" x="344" y="2662"/></g>
<g id="n52_1"><use href="#CL" x="84" y="2714"/></g><g id="n52_2"><use href="#CL" x="136" y="2714"/></g><g id="n52_3"><use href="#WL" x="188" y="2714"/></g><g id="n52_4"><use href="#WL" x="240" y="2714"/></g><g id="n52_5"><use href="#CL" x="292" y="2714"/></g><g id="n52_6"><use href="#NL" x="344" y="2714"/></g>
<g id="n53_1"><use href="#NR" x="84" y="2766"/></g><g id="n53_2"><use href="#NR" x="136" y="2766"/></g><g id="n53_3"><use href="#CR" x="188" y="2766"/></g><g id="n53_4"><use href="#WR" x="240" y="2766"/></g><g id="n53_5"><use href="#CR" x="292" y="2766"/></g><g id="n53_6"><use href="#NR" x="344" y="2766"/></g>
<g id="n54_1"><use href="#NL" x="84" y="2818"/></g><g id="n54_2"><use href="#CL" x="136" y="2818"/></g><g id="n54_3"><use href="#WL" x="188" y="2818"/></g><g id="n54_4"><use href="#WL" x="240" y="2818"/></g><g id="n54_5"><use href="#WL" x="292" y="2818"/></g><g id="n54_6"><use href="#CL" x="344" y="2818"/></g>
<g id="n55_1"><use href="#CR" x="84" y="2870"/></g><g id="n55_2"><use href="#CR" x="136" y="2870"/></g><g id="n55_3"><use href="#WR" x="188" y="2870"/></g><g id="n55_4"><use href="#WR" x="240" y="2870"/></g><g id="n55_5"><use href="#WR" x="292" y="2870"/></g><g id="n55_6"><use href="#WR" x="344" y="2870"/></g>
<g id="n56_1"><use href="#CL" x="84" y="2922"/></g><g id="n56_2"><use href="#WL" x="136" y="2922"/></g><g id="n56_3"><use href="#WL" x="188" y="2922"/></g><g id="n56_4"><use href="#CL" x="240" y="2922"/></g><g id="n56_5"><use href="#WL" x="292" y="2922"/></g><g id="n56_6"><use href="#WL" x="344" y="2922"/></g>
<g id="n57_1"><use href="#WR" x="84" y="2974"/></g><g id="n57_2"><use href="#WR" x="136" y="2974"/></g><g id="n57_3"><use href="#CR" x="188" y="2974"/></g><g id="n57_4"><use href="#CR" x="240" y="2974"/></g><g id="n57_5"><use href="#WR" x="292" y="2974"/></g><g id="n57_6"><use href="#WR" x="344" y="2974"/></g>
<g id="n58_1"><use href="#WL" x="84" y="3026"/></g><g id="n58_2"><use href="#WL" x="136" y="3026"/></g><g id="n58_3"><use href="#WL" x="188" y="3026"/></g><g id="n58_4"><use href="#WL" x="240" y="3026"/></g><g id="n58_5"><use href="#WL" x="292" y="3026"/></g><g id="n58_6"><use href="#CL" x="344" y="3026"/></g>
<g id="n59_1"><use href="#CR" x="84" y="3078"/></g><g id="n59_2"><use href="#WR" x="136" y="3078"/></g><g id="n59_3"><use href="#WR" x="188" y="3078"/></g><g id="n59_4"><use href="#WR" x="240" y="3078"/></g><g id="n59_5"><use href="#CR" x="292" y="3078"/></g><g id="n59_6"><use href="#CR" x="344" y="3078"/></g>
<g id="n60_1"><use href="#CL" x="84" y="3130"/></g><g id="n60_2"><use href="#CL" x="136" y="3130"/></g><g id="n60_3"><use href="#WL" x="188" y="3130"/></g><g id="n60_4"><use href="#WL" x="240" y="3130"/></g><g id="n60_5"><use href="#CL" x="292" y="3130"/></g><g id="n60_6"><use href="#NL" x="344" y="3130"/></g>
<g id="n61_1"><use href="#NR" x="84" y="3182"/></g><g id="n61_2"><use href="#NR" x="136" y="3182"/></g><g id="n61_3"><use href="#CR" x="188" y="3182"/></g><g id="n61_4"><use href="#WR" x="240" y="3182"/></g><g id="n61_5"><use href="#CR" x="292" y="3182"/></g><g id="n61_6"><use href="#NR" x="344" y="3182"/></g>
<g id="n62_1"><use href="#NL" x="84" y="3234"/></g><g id="n62_2"><use href="#NL" x="136" y="3234"/></g><g id="n62_3"><use href="#CL" x="188" y="3234"/></g><g id="n62_4"><use href="#WL" x="240" y="3234"/></g><g id="n62_5"><use href="#WL" x="292" y="3234"/></g><g id="n62_6"><use href="#CL" x="344" y="3234"/></g>
<g id="n63_1"><use href="#NR" x="84" y="3286"/></g><g id="n63_2"><use href="#CR" x="136" y="3286"/></g><g id="n63_3"><use href="#CR" x="188" y="3286"/></g><g id="n63_4"><use href="#WR" x="240" y="3286"/></g><g id="n63_5"><use href="#WR" x="292" y="3286"/></g><g id="n63_6"><use href="#WR" x="344" y="3286"/></g>
<g id="n64_1"><use href="#CL" x="84" y="3338"/></g><g id="n64_2"><use href="#CL" x="136" y="3338"/></g><g id="n64_3"><use href="#CL" x="188" y="3338"/></g><g id="n64_4"><use href="#WL" x="240" y="3338"/></g><g id="n64_5"><use href="#WL" x="292" y="3338"/></g><g id="n64_6"><use href="#WL" x="344" y="3338"/></g>
<g id="n65_1"><use href="#WR" x="84" y="3390"/></g><g id="n65_2"><use href="#CR" x="136" y="3390"/></g><g id="n65_3"><use href="#WR" x="188" y="3390"/></g><g id="n65_4"><use href="#WR" x="240" y="3390"/></g><g id="n65_5"><use href="#WR" x="292" y="3390"/></g><g id="n65_6"><use href="#WR" x="344" y="3390"/></g>
<g id="n66_1"><use href="#WL" x="84" y="3442"/></g><g id="n66_2"><use href="#WL" x="136" y="3442"/></g><g id="n66_3"><use href="#WL" x="188" y="3442"/></g><g id="n66_4"><use href="#WL" x="240" y="3442"/></g><g id="n66_5"><use href="#WL" x="292" y="3442"/></g><g id="n66_6"><use href="#WL" x="344" y="3442"/></g>
<g id="n67_1"><use href="#WR" x="84" y="3494"/></g><g id="n67_2"><use href="#WR" x="136" y="3494"/></g><g id="n67_3"><use href="#WR" x="188" y="3494"/></g><g id="n67_4"><use href="#WR" x="240" y="3494"/></g><g id="n67_5"><use href="#WR" x="292" y="3494"/></g><g id="n67_6"><use href="#WR" x="344" y="3494"/></g>
<g id="n68_1"><use href="#WL" x="84" y="3546"/></g><g id="n68_2"><use href="#WL" x="136" y="3546"/></g><g id="n68_3"><use href="#WL" x="188" y="3546"/></g><g id="n68_4"><use href="#WL" x="240" y="3546"/></g><g id="n68_5"><use href="#WL" x="292" y="3546"/></g><g id="n68_6"><use href="#WL" x="344" y="3546"/></g>
</g>
<text x="214" y="1809" text-anchor="middle" font-family="Liberation Sans,Arial,sans-serif" font-weight="bold" font-size="15" fill="#3a3a3a" stroke="#fff" stroke-width="2.5" paint-order="stroke" textLength="153" lengthAdjust="spacingAndGlyphs">BRACELETBOOK.COM</text>
</svg>
